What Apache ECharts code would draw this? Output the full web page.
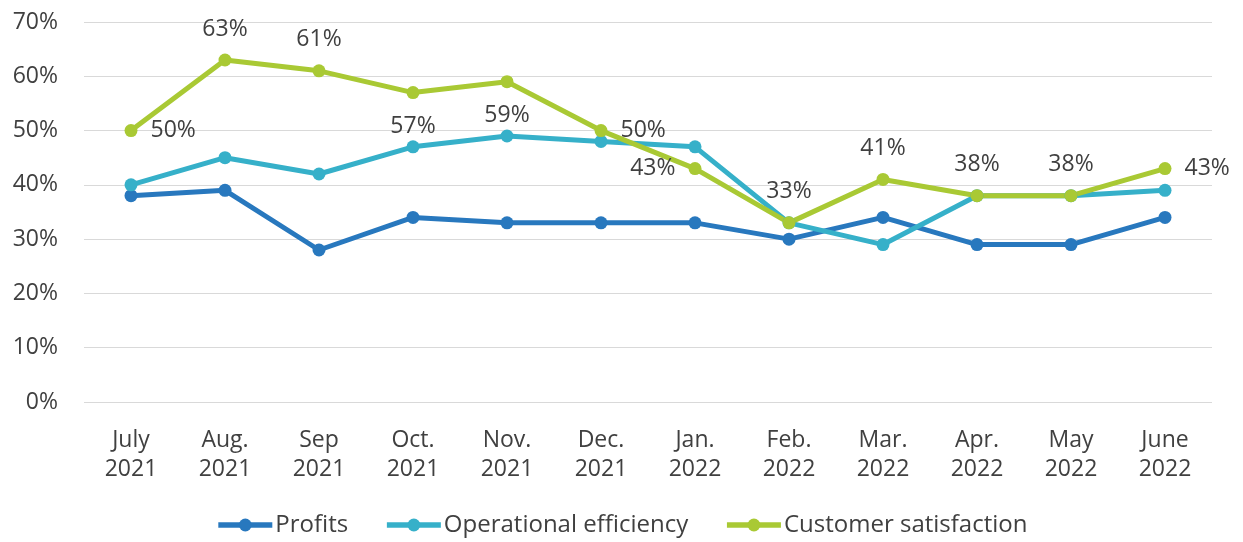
<!DOCTYPE html>
<html>
<head>
<meta charset="utf-8">
<script src="https://cdn.jsdelivr.net/npm/echarts@6/dist/echarts.min.js"></script>
<style>
  html, body { margin: 0; padding: 0; background: #fff; }
  #main { width: 1243px; height: 542px; }
</style>
</head>
<body>
<div id="main"></div>
<script>
const months = ["July\n2021", "Aug.\n2021", "Sep\n2021", "Oct.\n2021", "Nov.\n2021", "Dec.\n2021",
  "Jan.\n2022", "Feb.\n2022", "Mar.\n2022", "Apr.\n2022", "May\n2022", "June\n2022"];
const profits = [38, 39, 28, 34, 33, 33, 33, 30, 34, 29, 29, 34];
const efficiency = [40, 45, 42, 47, 49, 48, 47, 33, 29, 38, 38, 39];
const satisfaction = [50, 63, 61, 57, 59, 50, 43, 33, 41, 38, 38, 43];
// where each satisfaction label sits next to its point
const labelSides = ["right", "top", "top", "bottom", "bottom", "right", "left", "top", "top", "top", "top", "right"];

const textColor = "#404040";
const font = "'Open Sans', 'Noto Sans', sans-serif";
const fs = 23;

function distFor(side) {
  if (side == "top") return 13;
  if (side == "bottom") return 16;
  return 13;
}

var chart = echarts.init(document.getElementById("main"));

var option = {
  animation: false,
  textStyle: { fontFamily: font },
  grid: { left: 84, right: 31, top: 22, bottom: 140 },
  legend: {
    bottom: 0,
    left: "center",
    itemWidth: 54,
    itemHeight: 16,
    itemGap: 36,
    lineStyle: { width: 5.5 },
    textStyle: { fontSize: 24, color: textColor, fontFamily: font, padding: [0, 0, 0, -2] },
    data: ["Profits", "Operational efficiency", "Customer satisfaction"]
  },
  xAxis: {
    type: "category",
    data: months,
    axisLine: { show: false },
    axisTick: { show: false },
    axisLabel: { color: textColor, fontSize: fs, lineHeight: 29, margin: 24, interval: 0 }
  },
  yAxis: {
    type: "value",
    min: 0,
    max: 70,
    interval: 10,
    axisLabel: { formatter: "{value}%", color: textColor, fontSize: fs, margin: 26 },
    splitLine: { lineStyle: { color: "#d9d9d9", width: 1 } }
  },
  series: [
    {
      name: "Profits",
      type: "line",
      data: profits,
      symbol: "circle",
      symbolSize: 13,
      color: "#2878be",
      lineStyle: { width: 5 }
    },
    {
      name: "Operational efficiency",
      type: "line",
      data: efficiency,
      symbol: "circle",
      symbolSize: 13,
      color: "#36b0c9",
      lineStyle: { width: 5 }
    },
    {
      name: "Customer satisfaction",
      type: "line",
      data: satisfaction.map((v, i) => ({
        value: v,
        label: { position: labelSides[i], distance: distFor(labelSides[i]) }
      })),
      symbol: "circle",
      symbolSize: 13,
      color: "#a9c934",
      lineStyle: { width: 5 },
      label: {
        show: true,
        formatter: "{c}%",
        color: textColor,
        fontSize: fs
      }
    }
  ]
};

chart.setOption(option);
</script>
</body>
</html>
